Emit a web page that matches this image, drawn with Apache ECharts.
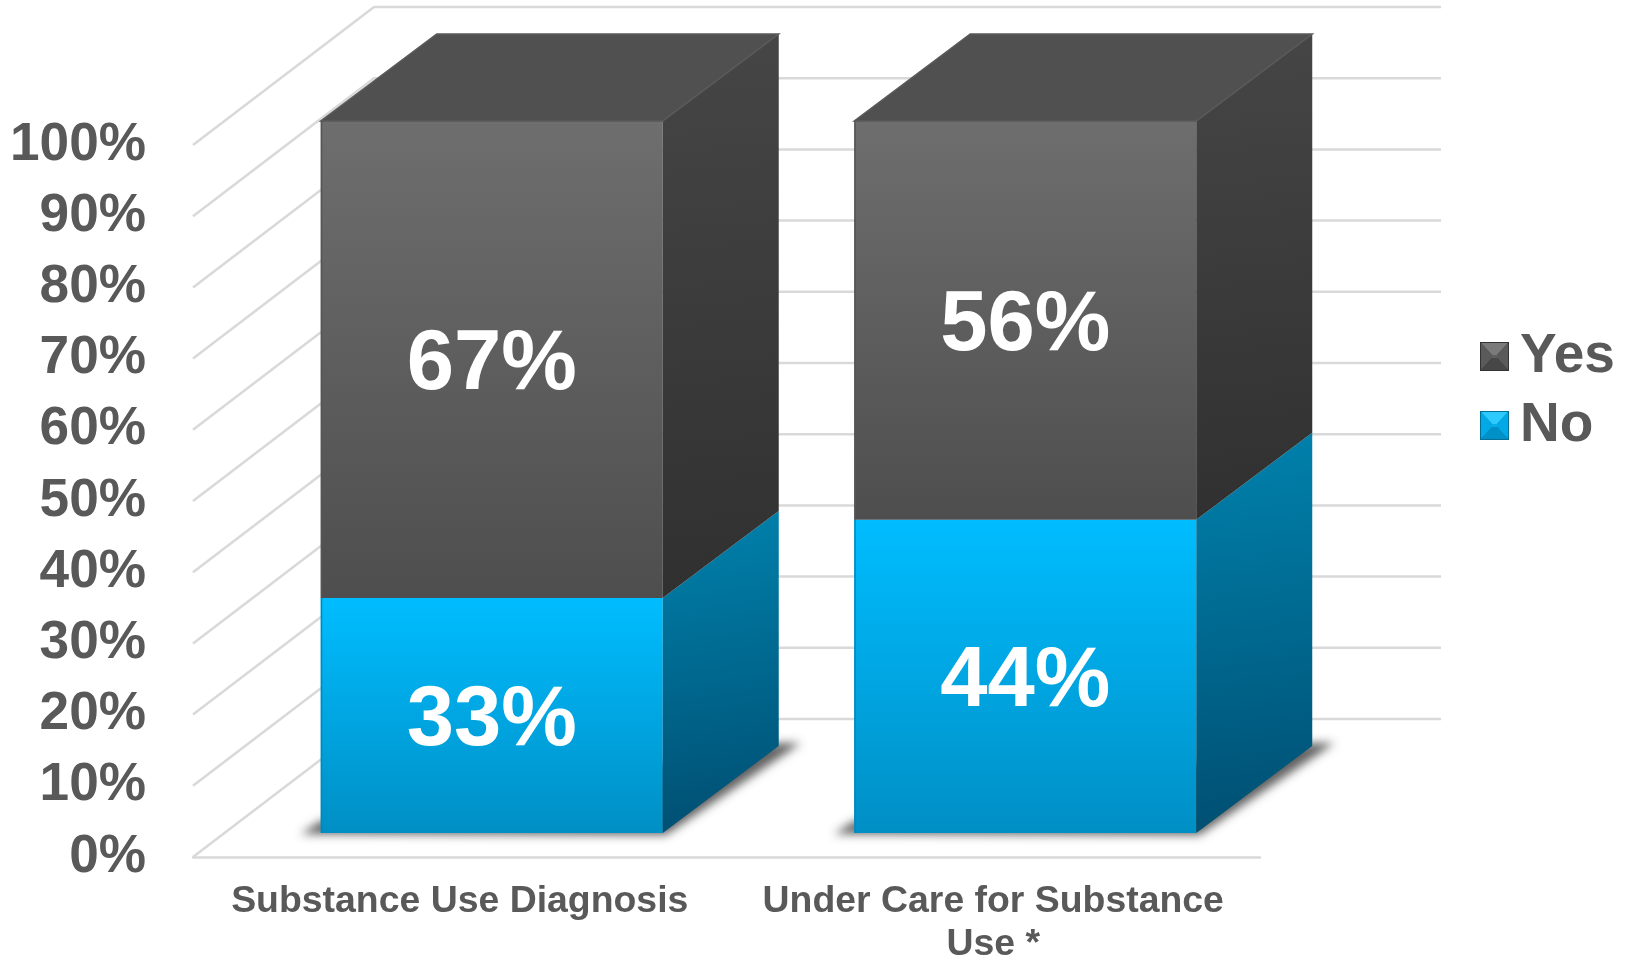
<!DOCTYPE html>
<html><head><meta charset="utf-8">
<style>html,body{margin:0;padding:0;background:#fff}#c{width:1631px;height:966px}</style>
<script src="https://cdn.jsdelivr.net/npm/echarts@6/dist/echarts.min.js"></script>
</head><body><div id="c"></div>
<script>
var categories = ['Substance Use Diagnosis', 'Under Care for Substance\nUse *'];
var noValues = [33, 44];
var yesValues = [67, 56];
var yTicks = [0, 10, 20, 30, 40, 50, 60, 70, 80, 90, 100];

var FONT = '"Liberation Sans", Arial, sans-serif';
var TEXT = '#595959', GRID = '#d9d9d9';
var WALL_DX = 181, WALL_DY = -138;      // floor depth projection
var BAR_DX = 32, BAR_DY = -24;          // bar's front face offset on floor
var DEPTH_DX = 116, DEPTH_DY = -87;     // bar's own depth
var BAR_W = 342;
var OFF = 3000;                         // shadow caster is drawn off-canvas

function lin(x0, y0, x1, y1, c0, c1) {
  return {type: 'linear', x: x0, y: y0, x2: x1, y2: y1, colorStops: [{offset: 0, color: c0}, {offset: 1, color: c1}]};
}
function poly(pts, style) {
  return {type: 'polygon', shape: {points: pts}, style: style, silent: true};
}
function bevel(a, b, c, d, e) {
  var s = '<svg xmlns="http://www.w3.org/2000/svg" width="29" height="29">' +
    '<rect width="29" height="29" fill="' + e + '"/>' +
    '<polygon points="1,1 28,1 17,13 12,13" fill="' + a + '"/>' +
    '<polygon points="1,1 12,13 12,16 1,28" fill="' + b + '"/>' +
    '<polygon points="28,1 17,13 17,16 28,28" fill="' + b + '"/>' +
    '<polygon points="1,28 12,16 17,16 28,28" fill="' + c + '"/>' +
    '<rect x="12" y="13" width="5" height="3" fill="' + d + '"/></svg>';
  return 'image://data:image/svg+xml;charset=utf-8,' + encodeURIComponent(s);
}

function renderWall(params, api) {
  var cs = params.coordSys, y = api.coord([0, api.value(0)])[1];
  return {type: 'polyline', silent: true,
    shape: {points: [[cs.x, y], [cs.x + WALL_DX, y + WALL_DY], [cs.x + cs.width + WALL_DX, y + WALL_DY]]},
    style: {fill: null, stroke: GRID, lineWidth: 2.5}};
}
function renderShadow(params, api) {
  var p = api.coord([api.value(0), 0]);
  var l = p[0] + BAR_DX - BAR_W / 2, r = l + BAR_W, y = p[1] + BAR_DY;
  var pts = [[l - 20, y + 1], [r + 3, y + 2], [r + DEPTH_DX + 22, y + DEPTH_DY - 3], [r + DEPTH_DX, y + DEPTH_DY - 3], [l, y - 12]];
  return poly(pts.map(function (q) { return [q[0] - OFF, q[1]]; }),
    {fill: '#000', shadowBlur: 10, shadowOffsetX: OFF, shadowColor: 'rgba(70,70,70,0.85)'});
}
function makeBar(cols) {
  return function (params, api) {
    var c = api.value(0), b = api.value(1), v = api.value(2);
    var p0 = api.coord([c, b]), p1 = api.coord([c, b + v]);
    var l = p0[0] + BAR_DX - BAR_W / 2, r = l + BAR_W;
    var yb = p0[1] + BAR_DY, yt = p1[1] + BAR_DY;
    var kids = [
      poly([[l, yb], [r, yb], [r, yt], [l, yt]], {fill: lin(0, 0, 0, 1, cols.front[0], cols.front[1])}),
      poly([[r, yb], [r + DEPTH_DX, yb + DEPTH_DY], [r + DEPTH_DX, yt + DEPTH_DY], [r, yt]], {fill: lin(0, 0, 0.45, 1, cols.side[0], cols.side[1])})
    ];
    if (b + v >= 100) {
      kids.push(poly([[l, yt], [r, yt], [r + DEPTH_DX, yt + DEPTH_DY], [l + DEPTH_DX, yt + DEPTH_DY]], {fill: '#505050', stroke: '#5a5a5a', lineWidth: 1.5}));
    }
    kids.push({type: 'rect', silent: true, shape: {x: l, y: yt, width: 1.5, height: yb - yt}, style: {fill: cols.edge}});
    kids.push({type: 'text', silent: true, style: {
      text: v + '%', x: (l + r) / 2, y: (yb + yt) / 2 + 6, align: 'center', verticalAlign: 'middle',
      fill: '#ffffff', font: 'bold 85px ' + FONT}});
    return {type: 'group', children: kids};
  };
}
var noCols = {front: ['#00bdff', '#008fc5'], side: ['#0082ad', '#004f72'], edge: '#0088ba'};
var yesCols = {front: ['#6e6e6e', '#4e4e4e'], side: ['#464646', '#303030'], edge: '#555555'};

var chart = echarts.init(document.getElementById('c'), null, {renderer: 'canvas', width: 1631, height: 966});
chart.setOption({
  animation: false,
  backgroundColor: '#ffffff',
  grid: {left: 193, width: 1067, top: 145, height: 719, containLabel: false},
  legend: {
    orient: 'vertical', left: 1480, top: 329, padding: 0, itemWidth: 29, itemHeight: 29, itemGap: 14, selectedMode: false,
    textStyle: {color: TEXT, fontFamily: FONT, fontWeight: 'bold', fontSize: 55, lineHeight: 42, padding: [0, 0, 0, 6]},
    data: [
      {name: 'Yes', icon: bevel('#7a7a7a', '#5a5a5a', '#474747', '#5f5f5f', '#333333')},
      {name: 'No', icon: bevel('#2ccaff', '#03a9e6', '#0090c8', '#08aee8', '#006f96')}
    ]
  },
  xAxis: {
    type: 'category', data: categories,
    axisLine: {show: true, lineStyle: {color: GRID, width: 2.5}}, axisTick: {show: false}, splitLine: {show: false},
    axisLabel: {interval: 0, color: TEXT, fontFamily: FONT, fontWeight: 'bold', fontSize: 37.4, lineHeight: 43, margin: 23}
  },
  yAxis: {
    type: 'value', min: 0, max: 100, interval: 10,
    axisLine: {show: false}, axisTick: {show: false}, splitLine: {show: false},
    axisLabel: {formatter: '{value}%', color: TEXT, fontFamily: FONT, fontWeight: 'bold', fontSize: 53.2, margin: 47, padding: [8, 0, 0, 0]}
  },
  series: [
    {type: 'custom', name: 'wall', silent: true, z: 1, clip: false, data: yTicks.map(function (t) { return [t]; }), encode: {y: 0}, renderItem: renderWall},
    {type: 'custom', name: 'shadow', silent: true, z: 2, clip: false, data: categories.map(function (_, i) { return [i]; }), encode: {x: 0}, renderItem: renderShadow},
    {type: 'custom', name: 'No', z: 3, clip: false, itemStyle: {color: '#00bdff'}, data: noValues.map(function (v, i) { return [i, 0, v]; }), encode: {x: 0, y: 2}, renderItem: makeBar(noCols)},
    {type: 'custom', name: 'Yes', z: 3, clip: false, itemStyle: {color: '#5c5c5c'}, data: yesValues.map(function (v, i) { return [i, noValues[i], v]; }), encode: {x: 0, y: 2}, renderItem: makeBar(yesCols)}
  ]
});
</script></body></html>
